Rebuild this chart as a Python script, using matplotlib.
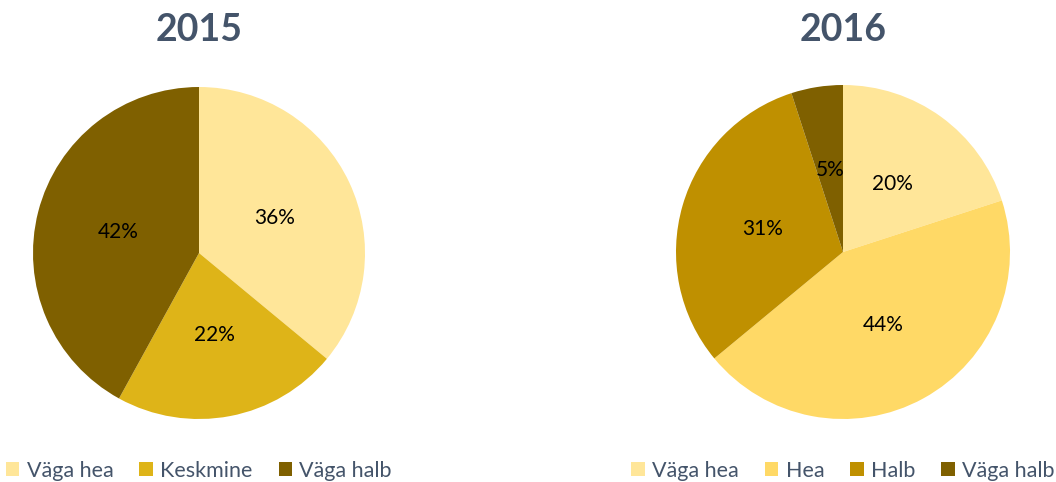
import matplotlib.pyplot as plt
from matplotlib.patches import Patch

plt.rcParams['font.family'] = ['Lato', 'DejaVu Sans']

# 2015 data
labels_2015 = ["Väga hea", "Keskmine", "Väga halb"]
values_2015 = [36, 22, 42]
colors_2015 = ["#FFE699", "#DEB418", "#7F6000"]

# 2016 data
labels_2016 = ["Väga hea", "Hea", "Halb", "Väga halb"]
values_2016 = [20, 44, 31, 5]
colors_2016 = ["#FFE699", "#FFD966", "#BF9000", "#7F6000"]

title_color = "#44546A"
W, H = 1056, 482

fig = plt.figure(figsize=(W / 100, H / 100), dpi=100)


def draw_pie(cx, cy, r, values, colors, labels, title, legend_y):
    ax = fig.add_axes([(cx - r) / W, 1 - (cy + r) / H, 2 * r / W, 2 * r / H])
    ax.pie(values, colors=colors, startangle=90, counterclock=False,
           autopct="%d%%", pctdistance=0.5, radius=1,
           wedgeprops=dict(linewidth=0),
           textprops=dict(fontsize=15, color="black"))
    ax.set_xlim(-1, 1)
    ax.set_ylim(-1, 1)
    ax.set_aspect("equal")
    ax.axis("off")
    fig.text(cx / W, 1 - 30 / H, title, ha="center", va="center",
             fontsize=27, fontweight="bold", color=title_color)
    handles = [Patch(facecolor=c, edgecolor="none") for c in colors]
    leg = fig.legend(handles, labels, loc="center", ncol=len(labels),
                     bbox_to_anchor=(cx / W, 1 - legend_y / H), frameon=False,
                     fontsize=15.5, handlelength=0.62, handleheight=0.62,
                     handletextpad=0.35, columnspacing=1.2, borderpad=0)
    for t in leg.get_texts():
        t.set_color(title_color)


draw_pie(199, 253, 166, values_2015, colors_2015, labels_2015, "2015", 471)
draw_pie(843, 252, 167, values_2016, colors_2016, labels_2016, "2016", 471)

fig.savefig("out.png", dpi=100)
